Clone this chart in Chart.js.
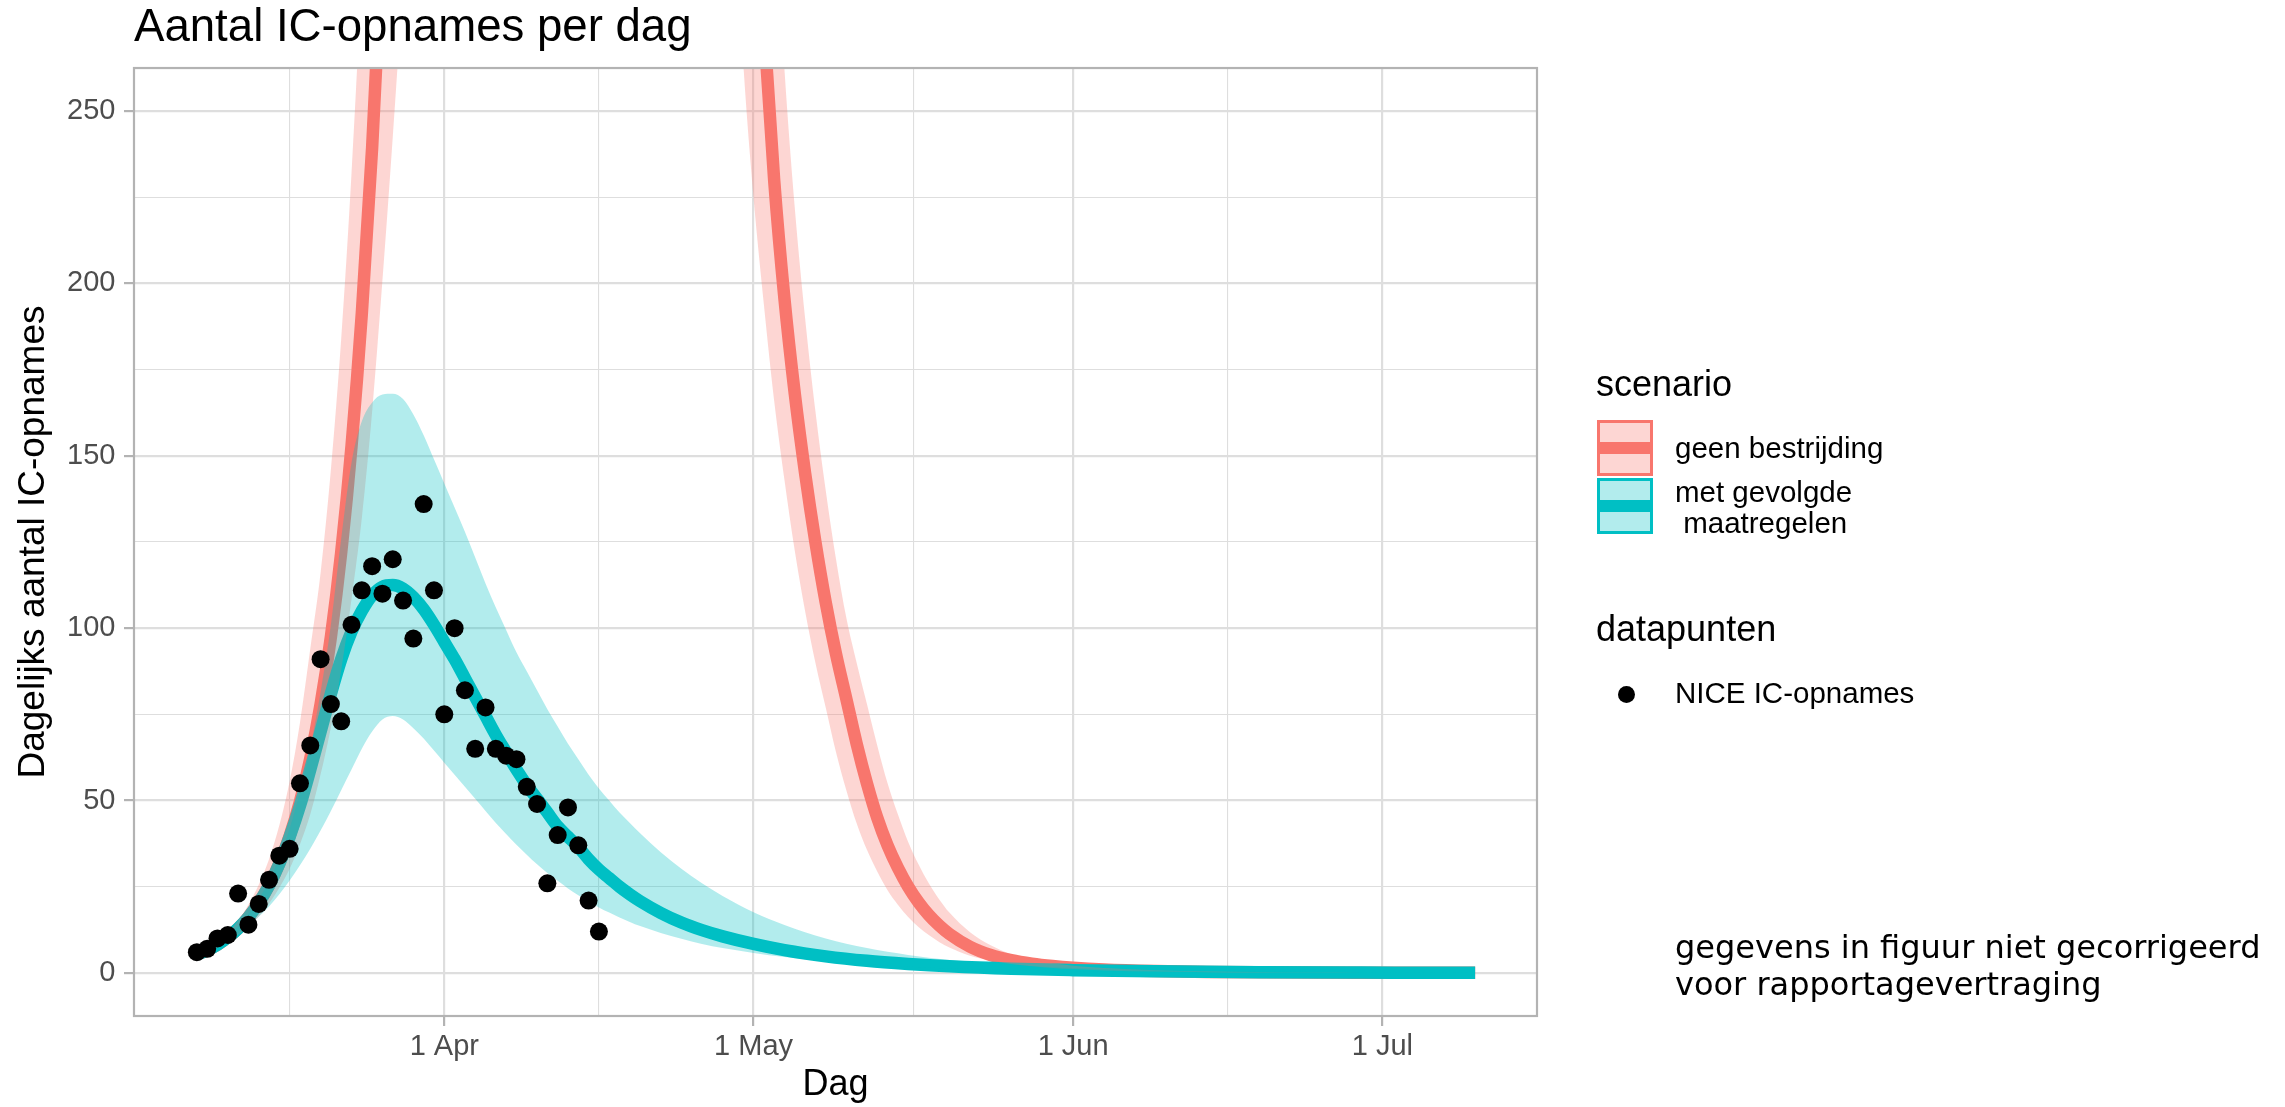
<!DOCTYPE html>
<html>
<head>
<meta charset="utf-8">
<script src="https://cdn.jsdelivr.net/npm/chart.js@4.4.1/dist/chart.umd.min.js"></script>
<style>
html,body{margin:0;padding:0;background:#fff;}
#wrap{position:relative;width:2285px;height:1107px;overflow:hidden;background:#fff;}
#c{position:absolute;left:0;top:0;}
.t{position:absolute;white-space:pre;color:#000;font-family:"Liberation Sans",Arial,Helvetica,sans-serif;}
.key{position:absolute;box-sizing:border-box;}
.keyline{position:absolute;left:0;right:0;}
</style>
</head>
<body>
<div id="wrap">
<canvas id="c" width="2285" height="1107"></canvas>
<div id="legend"></div>
</div>
<script>
// ---- data (x = days since 1 March 2020) ----
const niceDagen = [7,8,9,10,11,12,13,14,15,16,17,18,19,20,21,22,23,24,25,26,27,28,29,30,31,32,33,34,35,36,37,38,39,40,41,42,43,44,45,46];
const niceOpnames = [6,7,10,11,23,14,20,27,34,36,55,66,91,78,73,101,111,118,110,120,108,97,136,111,75,100,82,65,77,65,63,62,54,49,26,40,48,37,21,12];

const geenDagen = [7,8,9,10,11,12,13,14,15,16,17,18,19,20,21,22,23,24,25,26,27,28,30,33,36,40,45,50,55,56,57,58,59,60,61,62,63,64,65,66,67,68,69,70,71,72,73,74,75,76,77,78,79,80,82,84,86,88,90,92,95,100,105,110,115,120,125,131];
const geenMidden = [5.3,6.6,8.2,10.3,12.9,16.2,20.3,25.4,31.7,39.7,49.7,62.2,77.9,97.5,122,152.8,191.3,239.4,299.8,370,450,540,760,1100,1400,1700,1750,1450,950,830,700,580,480,400,332,275,230,195.5,168,145,125,107.5,92.5,79.5,66.5,55,45,37,30.5,25,20.5,16.8,13.8,11.3,7.6,5.2,3.7,2.7,2.0,1.5,1.0,0.55,0.3,0.17,0.1,0.06,0.035,0.02];
const geenBoven = [5.6,7.1,9.1,11.7,15.2,19.8,25.6,33,42.8,55.6,72.6,94,116,146,184,232,292,370,465,600,760,930,1300,1850,2350,2750,2850,2500,1500,1280,1050,850,690,560,455,375,313,262,222,190,163,140,120,103,90,78,66,55,46,38,31.5,26,21.4,17.5,11.8,8,5.4,3.9,2.8,2.1,1.45,0.8,0.45,0.25,0.14,0.08,0.05,0.03];
const geenOnder = [5.0,6.1,7.4,9.1,11.1,13.4,16.4,20.1,24.7,30.2,37.3,46,57.6,71.2,87.8,108.5,132,162.8,200.9,242.4,288,340,456,640,830,1000,1100,1000,720,590,480,390,318,264,225,194,166,143,122.5,105,90,77,64,53,43.4,35.7,29.4,24,19.8,16.2,13.3,11,9,7.4,5.0,3.6,2.6,1.95,1.45,1.1,0.7,0.38,0.2,0.11,0.065,0.04,0.022,0.012];

const metDagen = [7,8,9,10,11,12,13,14,15,16,17,18,19,20,21,22,23,24,25,26,27,28,29,30,31,32,33,34,35,36,37,38,39,40,41,42,43,44,45,46,47,48,49,50,52,54,56,58,61,64,68,72,76,80,86,92,100,110,120,131];
const metMidden = [5.3,6.6,8.2,10.3,12.9,16.2,20.3,25.4,31.7,39.5,48.5,59,70,81,91,99,105,109.5,112,112.5,111.5,109,105.5,101,96,91,85.5,80,74.5,69,64,59,54.5,50.5,46.5,42.5,39.5,36.5,33,30,27.5,25,22.8,20.8,17.4,14.6,12.4,10.6,8.4,6.6,4.8,3.5,2.6,1.9,1.2,0.8,0.45,0.22,0.1,0.05];
const metBoven = [5.5,6.9,8.6,10.8,13.6,17.1,21.4,26.8,33.5,42,52.5,65.5,81.5,101,126,148,160,165.5,167.8,168,166.5,162,156,149,142,135,128,120.5,113,106,99.5,93,87.5,82,76.5,71.5,66.5,62,57.5,53.5,50,46.5,43.5,40.5,35,30.2,26,22.3,17.6,13.9,10,7.2,5.2,3.75,2.3,1.45,0.8,0.38,0.18,0.08];
const metOnder = [5.1,6.3,7.7,9.4,11.4,13.7,16.3,19.3,22.8,26.8,31.2,36,41.3,47,53,59,65,70,73.5,74.5,73.5,71,68,64.5,61,57.5,54,50.5,47,43.5,40.3,37.2,34.3,31.5,29,26.7,24.5,22.5,20.7,19,17.5,16.1,14.8,13.6,11.6,9.9,8.4,7.2,5.8,4.6,3.4,2.5,1.8,1.3,0.85,0.55,0.3,0.15,0.07,0.03];

const xTickDagen = [31, 61, 92, 122];
const xTickLabels = ['1 Apr', '1 May', '1 Jun', '1 Jul'];
const xMinorDagen = [16, 46, 76.5, 107];
const yTicks = [0, 50, 100, 150, 200, 250];
const yMinor = [25, 75, 125, 175, 225];

// ---- styling ----
const FONT = '"Liberation Sans", Arial, Helvetica, sans-serif';
const RED = '#F8766D', TEAL = '#00BFC4';
const RED_FILL = 'rgba(248,118,109,0.3)', TEAL_FILL = 'rgba(0,191,196,0.3)';
const GRID = '#DEDEDE', TICKC = '#B3B3B3';

function pts(xs, ys) { return xs.map((x, i) => ({x: x, y: ys[i]})); }

Chart.defaults.font.family = FONT;

const lineCommon = {pointRadius: 0, pointHoverRadius: 0, cubicInterpolationMode: 'monotone', clip: 0, capBezierPoints: false};

const panelBorder = {
  id: 'panelBorder',
  afterDatasetsDraw(chart) {
    const a = chart.chartArea, ctx = chart.ctx;
    ctx.save();
    ctx.strokeStyle = TICKC;
    ctx.lineWidth = 2.2;
    ctx.strokeRect(a.left, a.top, a.right - a.left, a.bottom - a.top);
    ctx.restore();
  }
};

const isMajorX = v => xTickDagen.indexOf(v) >= 0;
const isMajorY = v => yTicks.indexOf(v) >= 0;

new Chart(document.getElementById('c'), {
  type: 'line',
  data: {
    datasets: [
      Object.assign({label: 'geen bestrijding', data: pts(geenDagen, geenMidden), borderColor: RED, borderWidth: 12.5, fill: false, order: 10}, lineCommon),
      Object.assign({label: 'met gevolgde maatregelen', data: pts(metDagen, metMidden), borderColor: TEAL, borderWidth: 12.5, fill: false, order: 9}, lineCommon),
      Object.assign({label: 'geen bestrijding (onder)', data: pts(geenDagen, geenOnder), borderColor: 'rgba(0,0,0,0)', borderWidth: 0, fill: false, order: 8}, lineCommon),
      Object.assign({label: 'geen bestrijding (boven)', data: pts(geenDagen, geenBoven), borderColor: 'rgba(0,0,0,0)', borderWidth: 0, backgroundColor: RED_FILL, fill: '-1', order: 8}, lineCommon),
      Object.assign({label: 'met gevolgde maatregelen (onder)', data: pts(metDagen, metOnder), borderColor: 'rgba(0,0,0,0)', borderWidth: 0, fill: false, order: 7}, lineCommon),
      Object.assign({label: 'met gevolgde maatregelen (boven)', data: pts(metDagen, metBoven), borderColor: 'rgba(0,0,0,0)', borderWidth: 0, backgroundColor: TEAL_FILL, fill: '-1', order: 7}, lineCommon),
      {type: 'scatter', label: 'NICE IC-opnames', data: pts(niceDagen, niceOpnames), pointRadius: 9, pointHoverRadius: 9, backgroundColor: '#000', borderWidth: 0, order: 1}
    ]
  },
  options: {
    responsive: false,
    animation: false,
    events: [],
    layout: {padding: {left: 0, right: 748, top: 1, bottom: 0}},
    plugins: {
      legend: {display: false},
      tooltip: {enabled: false},
      title: {
        display: true, text: 'Aantal IC-opnames per dag', align: 'start', fullSize: false,
        color: '#000', font: {family: FONT, size: 45.6, weight: 'normal'},
        padding: {top: 0, bottom: 12.3}
      }
    },
    scales: {
      x: {
        type: 'linear', min: 0.9, max: 137, bounds: 'data',
        afterBuildTicks: s => { s.ticks = xMinorDagen.concat(xTickDagen).sort((a, b) => a - b).map(v => ({value: v})); },
        afterFit: s => { s.height = 91; },
        ticks: {
          autoSkip: false, maxRotation: 0, minRotation: 0, padding: 4, color: '#4D4D4D',
          font: {family: FONT, size: 29},
          callback: v => { const i = xTickDagen.indexOf(v); return i >= 0 ? xTickLabels[i] : ''; }
        },
        grid: {
          color: GRID,
          lineWidth: c => (c.tick && isMajorX(c.tick.value)) ? 2.2 : 1.1,
          tickColor: c => (c.tick && isMajorX(c.tick.value)) ? TICKC : 'rgba(0,0,0,0)',
          tickLength: 10, tickWidth: 2.2
        },
        border: {display: false},
        title: {display: true, text: 'Dag', color: '#000', font: {family: FONT, size: 36}, padding: {top: 0, bottom: 0}}
      },
      y: {
        type: 'linear', min: -12.5, max: 262.5, bounds: 'data',
        afterBuildTicks: s => { s.ticks = yMinor.concat(yTicks).sort((a, b) => a - b).map(v => ({value: v})); },
        afterFit: s => { s.width = 134; },
        ticks: {
          autoSkip: false, padding: 8.5, color: '#4D4D4D',
          font: {family: FONT, size: 29},
          callback: v => isMajorY(v) ? String(v) : ''
        },
        grid: {
          color: GRID,
          lineWidth: c => (c.tick && isMajorY(c.tick.value)) ? 2.2 : 1.1,
          tickColor: c => (c.tick && isMajorY(c.tick.value)) ? TICKC : 'rgba(0,0,0,0)',
          tickLength: 10, tickWidth: 2.2
        },
        border: {display: false},
        title: {display: true, text: 'Dagelijks aantal IC-opnames', color: '#000', font: {family: FONT, size: 37}, padding: {top: 11.5, bottom: 0}}
      }
    }
  },
  plugins: [panelBorder]
});

// ---- legend + note (HTML text) ----
const legend = document.getElementById('legend');
function addText(txt, left, baseline, size, family) {
  const d = document.createElement('div');
  d.className = 't';
  d.textContent = txt;
  d.style.left = left + 'px';
  d.style.fontSize = size + 'px';
  d.style.lineHeight = size + 'px';
  d.style.top = (baseline - 0.8465 * size) + 'px';
  if (family) d.style.fontFamily = family;
  legend.appendChild(d);
}
function addKey(top, color, fill) {
  const k = document.createElement('div');
  k.className = 'key';
  k.style.left = '1597px'; k.style.top = top + 'px';
  k.style.width = '56px'; k.style.height = '56px';
  k.style.border = '3px solid ' + color;
  k.style.background = fill;
  const l = document.createElement('div');
  l.className = 'keyline';
  l.style.height = '12.5px';
  l.style.top = (25 - 6.25) + 'px';
  l.style.background = color;
  k.appendChild(l);
  legend.appendChild(k);
}
addText('scenario', 1596, 396.7, 36);
addKey(420, RED, RED_FILL);
addKey(478, TEAL, TEAL_FILL);
addText('geen bestrijding', 1675, 458.3, 29.5);
addText('met gevolgde', 1675, 502.3, 29.5);
addText(' maatregelen', 1675, 533.3, 29.5);
addText('datapunten', 1596, 641.7, 36);
const dot = document.createElement('div');
dot.style.cssText = 'position:absolute;left:' + (1626 - 8.5) + 'px;top:' + (694.3 - 8.5) + 'px;width:17px;height:17px;border-radius:50%;background:#000;';
legend.appendChild(dot);
addText('NICE IC-opnames', 1675, 703.3, 29.5);
addText('gegevens in figuur niet gecorrigeerd', 1675, 958.3, 32, '"DejaVu Sans", sans-serif');
addText('voor rapportagevertraging', 1675, 995, 32, '"DejaVu Sans", sans-serif');
</script>
</body>
</html>
